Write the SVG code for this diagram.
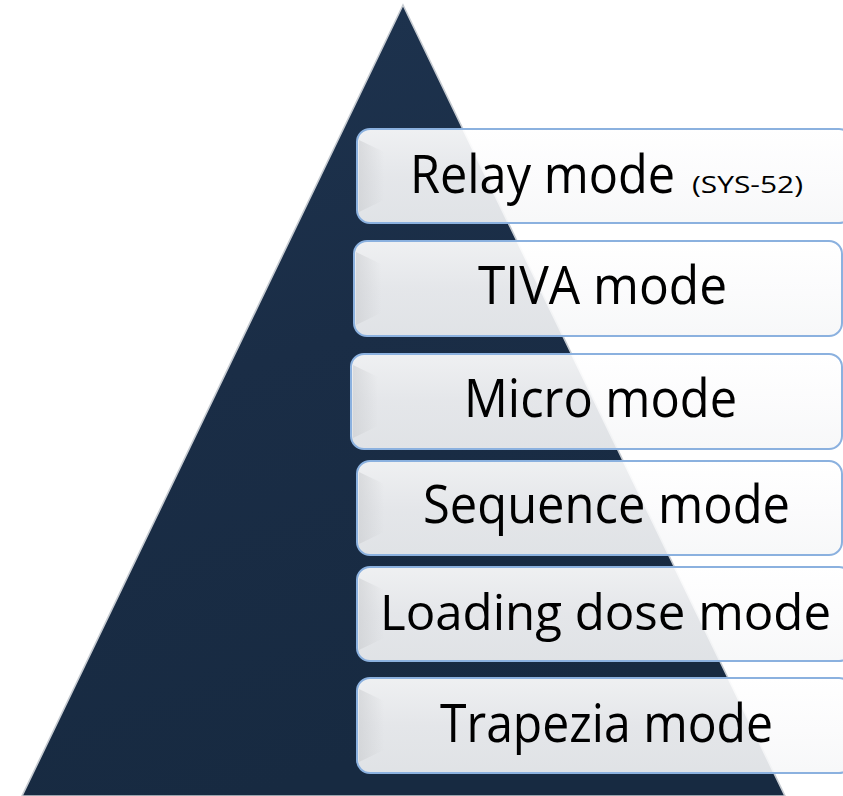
<svg xmlns="http://www.w3.org/2000/svg" width="843" height="796" viewBox="0 0 843 796">
  <defs>
    <linearGradient id="triFill" x1="0" y1="0" x2="0.3" y2="1">
      <stop offset="0" stop-color="#1e3450"/>
      <stop offset="0.5" stop-color="#1a2d46"/>
      <stop offset="1" stop-color="#172a41"/>
    </linearGradient>
    <linearGradient id="boxFill" x1="0" y1="0" x2="0" y2="1">
      <stop offset="0" stop-color="#ffffff" stop-opacity="0.93"/>
      <stop offset="0.5" stop-color="#fbfbfc" stop-opacity="0.9"/>
      <stop offset="1" stop-color="#f6f7f8" stop-opacity="0.9"/>
    </linearGradient>
    <linearGradient id="bevelL" x1="0" y1="0" x2="1" y2="0">
      <stop offset="0" stop-color="#c9cbce" stop-opacity="0.55"/>
      <stop offset="1" stop-color="#c9cbce" stop-opacity="0"/>
    </linearGradient>
  </defs>
  <style>
    .box { fill: url(#boxFill); stroke: #8bb1df; stroke-width: 2; }
    .bevel { fill: url(#bevelL); stroke: none; }
    .lbl { font-family: "Open Sans", "Noto Sans", "Liberation Sans", sans-serif; font-size: 53px; fill: #000000; }
    .small { font-family: "Open Sans", "Noto Sans", "Liberation Sans", sans-serif; font-size: 24px; fill: #000000; }
  </style>
  <rect width="843" height="796" fill="#ffffff"/>
  <g id="pyramid">
    <polygon points="403,5 22,796 785,796" fill="url(#triFill)" stroke="#c6cbd1" stroke-width="1.6"/>
  </g>
  <g id="connectors"/>
  <g id="relay">
    <rect class="box" x="357" y="129" width="495" height="94" rx="13"/>
    <polygon class="bevel" points="359,140 384,152 384,200 359,212"/>
    <text class="lbl" x="410" y="193" textLength="265" lengthAdjust="spacingAndGlyphs">Relay mode</text>
    <text class="small" x="692" y="193" textLength="111" lengthAdjust="spacingAndGlyphs">(SYS-52)</text>
  </g>
  <g id="tiva">
    <rect class="box" x="354" y="241" width="488" height="95" rx="13"/>
    <polygon class="bevel" points="356,252 381,264 381,313 356,325"/>
    <text class="lbl" x="478" y="304" textLength="249" lengthAdjust="spacingAndGlyphs">TIVA mode</text>
  </g>
  <g id="micro">
    <rect class="box" x="351" y="354" width="491" height="95" rx="13"/>
    <polygon class="bevel" points="353,365 378,377 378,426 353,438"/>
    <text class="lbl" x="464" y="417" textLength="273" lengthAdjust="spacingAndGlyphs">Micro mode</text>
  </g>
  <g id="sequence">
    <rect class="box" x="357" y="461" width="485" height="94" rx="13"/>
    <polygon class="bevel" points="359,472 384,484 384,532 359,544"/>
    <text class="lbl" x="423" y="523" textLength="367" lengthAdjust="spacingAndGlyphs">Sequence mode</text>
  </g>
  <g id="loading">
    <rect class="box" x="357" y="567" width="495" height="94" rx="13"/>
    <polygon class="bevel" points="359,578 384,590 384,638 359,650"/>
    <text class="lbl" x="380" y="630" style="font-size:49px" textLength="451" lengthAdjust="spacingAndGlyphs">Loading dose mode</text>
  </g>
  <g id="trapezia">
    <rect class="box" x="357" y="678" width="495" height="95" rx="13"/>
    <polygon class="bevel" points="359,689 384,701 384,750 359,762"/>
    <text class="lbl" x="440" y="742" textLength="333" lengthAdjust="spacingAndGlyphs">Trapezia mode</text>
  </g>
</svg>
